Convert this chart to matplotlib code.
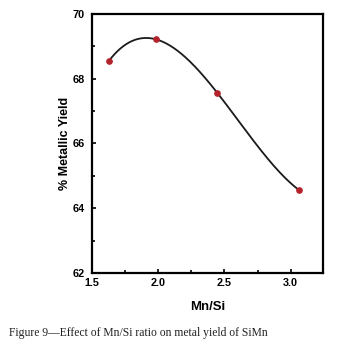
import numpy as np
import matplotlib
matplotlib.use("Agg")
import matplotlib.pyplot as plt
from matplotlib.ticker import MultipleLocator

# data
mn_si = [1.63, 1.98, 2.445, 3.063]
yield_pct = [68.56, 69.22, 67.57, 64.56]

plt.rcParams['font.family'] = 'Liberation Sans'
plt.rcParams['xtick.direction'] = 'in'
plt.rcParams['ytick.direction'] = 'in'

fig = plt.figure(figsize=(3.43, 3.49), dpi=100)
ax = fig.add_axes([0.268, 0.218, 0.674, 0.742])

# smooth curve through the points (cubic through 4 points)
coef = np.polyfit(mn_si, yield_pct, 3)
xs = np.linspace(min(mn_si), max(mn_si), 200)
ax.plot(xs, np.polyval(coef, xs), color='#1a1a1a', lw=1.3)
ax.plot(mn_si, yield_pct, 'o', color='#b3222b', ms=3.8, zorder=3)

ax.set_xlim(1.5, 3.245)
ax.set_ylim(62, 70)
ax.xaxis.set_major_locator(MultipleLocator(0.5))
ax.xaxis.set_minor_locator(MultipleLocator(0.25))
ax.yaxis.set_major_locator(MultipleLocator(2))
ax.yaxis.set_minor_locator(MultipleLocator(1))
ax.xaxis.set_major_formatter(plt.FormatStrFormatter('%.1f'))
ax.tick_params(which='major', length=3, width=1.2, labelsize=7.8)
ax.tick_params(axis='y', pad=5)
ax.tick_params(axis='x', pad=4)
ax.tick_params(which='minor', length=2, width=1.2)
for lab in ax.get_xticklabels() + ax.get_yticklabels():
    lab.set_fontweight('bold')
for sp in ax.spines.values():
    sp.set_linewidth(1.6)

ax.set_xlabel("Mn/Si", fontsize=9.5, fontweight='bold', labelpad=9)
ax.set_ylabel("% Metallic Yield", fontsize=9, fontweight='bold', labelpad=1)

fig.text(0.025, 0.047, "Figure 9\u2014Effect of Mn/Si ratio on metal yield of SiMn",
         family='Liberation Serif', fontsize=8.4, va='center', ha='left',
         color='#222222')

fig.savefig("out.png", dpi=100)
